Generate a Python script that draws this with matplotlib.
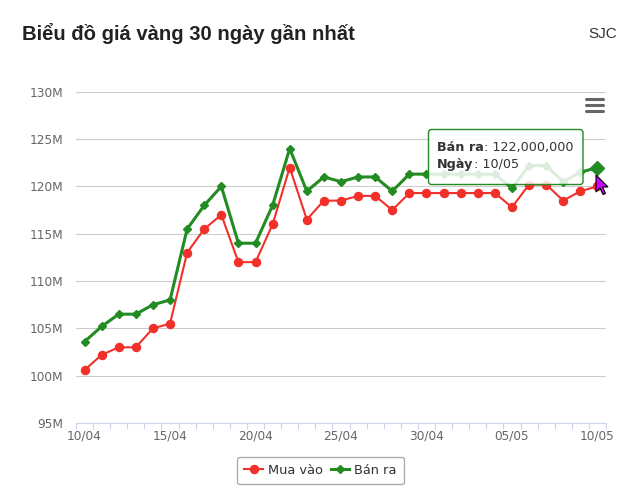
import numpy as np
import matplotlib.pyplot as plt
import matplotlib.transforms as mtransforms
from matplotlib.patches import FancyBboxPatch, Polygon
from matplotlib.lines import Line2D

# data (millions VND)
days = ['10/04', '11/04', '12/04', '13/04', '14/04', '15/04', '16/04', '17/04',
        '18/04', '19/04', '20/04', '21/04', '22/04', '23/04', '24/04', '25/04',
        '26/04', '27/04', '28/04', '29/04', '30/04', '01/05', '02/05', '03/05',
        '04/05', '05/05', '06/05', '07/05', '08/05', '09/05', '10/05']
mua_vao = [100.6, 102.2, 103.0, 103.0, 105.0, 105.5, 113.0, 115.5, 117.0, 112.0,
           112.0, 116.0, 122.0, 116.5, 118.5, 118.5, 119.0, 119.0, 117.5, 119.3,
           119.3, 119.3, 119.3, 119.3, 119.3, 117.8, 120.2, 120.2, 118.5, 119.5,
           120.0]
ban_ra = [103.6, 105.2, 106.5, 106.5, 107.5, 108.0, 115.5, 118.0, 120.0, 114.0,
          114.0, 118.0, 124.0, 119.5, 121.0, 120.5, 121.0, 121.0, 119.5, 121.3,
          121.3, 121.3, 121.3, 121.3, 121.3, 119.8, 122.2, 122.2, 120.5, 121.5,
          122.0]
y_ticks = [95, 100, 105, 110, 115, 120, 125, 130]

RED = '#f2302a'
GREEN = '#228b22'
W, H = 640, 498

fig = plt.figure(figsize=(W / 100, H / 100), dpi=100)
# pixel transform (origin top-left like the screenshot)
pix = mtransforms.Affine2D().scale(1 / 100, -1 / 100).translate(0, H / 100) + fig.dpi_scale_trans

ax = fig.add_axes([76 / W, 1 - 423 / H, 530 / W, (423 - 91.8) / H])
x = np.arange(len(days))
ax.plot(x, mua_vao, color=RED, lw=1.5, marker='o', ms=5.8, label='Mua vào', zorder=3)
ax.plot(x, ban_ra, color=GREEN, lw=2.2, marker='D', ms=4.5, label='Bán ra', zorder=4)
ax.plot(x[-1], ban_ra[-1], marker='D', ms=7.5, color=GREEN, zorder=7)

ax.set_xlim(-0.5, len(days) - 0.5)
ax.set_ylim(y_ticks[0], y_ticks[-1])
ax.set_yticks(y_ticks)
ax.set_yticklabels([f'{v}M' for v in y_ticks])
ax.set_xticks(x[::5])
ax.set_xticklabels(days[::5])
ax.set_xticks(np.arange(-0.5, len(days)), minor=True)
ax.tick_params(axis='x', which='major', length=0, pad=5, labelsize=8.7, labelcolor='#666666')
ax.tick_params(axis='x', which='minor', length=4, width=0.8, color='#ccd6eb')
ax.tick_params(axis='y', length=0, pad=9, labelsize=8.7, labelcolor='#666666')
ax.grid(axis='y', color='#cccccc', lw=0.8)
ax.set_axisbelow(True)
for s in ['top', 'right', 'left']:
    ax.spines[s].set_visible(False)
ax.spines['bottom'].set_color('#ccd6eb')
ax.spines['bottom'].set_linewidth(0.8)

# title
fig.text(22, 40.3, 'Biểu đồ giá vàng 30 ngày gần nhất', transform=pix,
         family='Liberation Sans', weight='bold', fontsize=14.6, color='#222222',
         va='baseline')
fig.text(617.3, 37.7, 'SJC', transform=pix, family='Liberation Sans', fontsize=11,
         color='#333333', ha='right', va='baseline')

# menu icon
for yy in [99, 105, 111]:
    fig.add_artist(Line2D([586, 603], [yy, yy], transform=pix, lw=2.2, color='#666666',
                          solid_capstyle='round'))

# tooltip
box = FancyBboxPatch((428.5, 129.5), 154.5, 55, boxstyle='round,pad=0,rounding_size=3',
                     transform=pix, facecolor='white', alpha=0.85, edgecolor='none', zorder=5)
fig.add_artist(box)
fig.add_artist(FancyBboxPatch((428.5, 129.5), 154.5, 55, boxstyle='round,pad=0,rounding_size=3',
                              transform=pix, facecolor='none', edgecolor=GREEN, lw=1, zorder=6))
fig.canvas.draw()
rows = [('Bán ra', ': {:,.0f}'.format(ban_ra[-1] * 1e6), 150.7),
        ('Ngày', ': ' + days[-1], 167.7)]
for bold, rest, yb in rows:
    t = fig.text(437.3, yb, bold, transform=pix, fontsize=9.2, weight='bold',
                 color='#333333', va='baseline', zorder=8)
    bb = t.get_window_extent(fig.canvas.get_renderer())
    fig.text(bb.x1 / 100, 0, rest, fontsize=9.2, color='#333333', va='baseline', zorder=8,
             transform=mtransforms.blended_transform_factory(fig.dpi_scale_trans, pix))
    fig.texts[-1].set_y(yb)

# mouse cursor
tip = (596, 175)
shape = [(0, 0), (0, 17), (4, 13), (7, 19.5), (9.5, 18.5), (6.5, 12), (12, 12)]
fig.add_artist(Polygon([(tip[0] + dx, tip[1] + dy) for dx, dy in shape], closed=True,
                       transform=pix, facecolor='#cc00ff', edgecolor='black', lw=0.8, zorder=10))

# legend
leg = fig.legend(loc='center', bbox_to_anchor=(320.5 / W, 1 - 470.5 / H), ncol=2,
                 frameon=True, fancybox=True, edgecolor='#999999', fontsize=9.4,
                 handlelength=1.4, columnspacing=0.6, handletextpad=0.4, borderpad=0.55,
                 labelcolor='#333333')
leg.get_frame().set_linewidth(1)

fig.savefig('out.png', dpi=100)
